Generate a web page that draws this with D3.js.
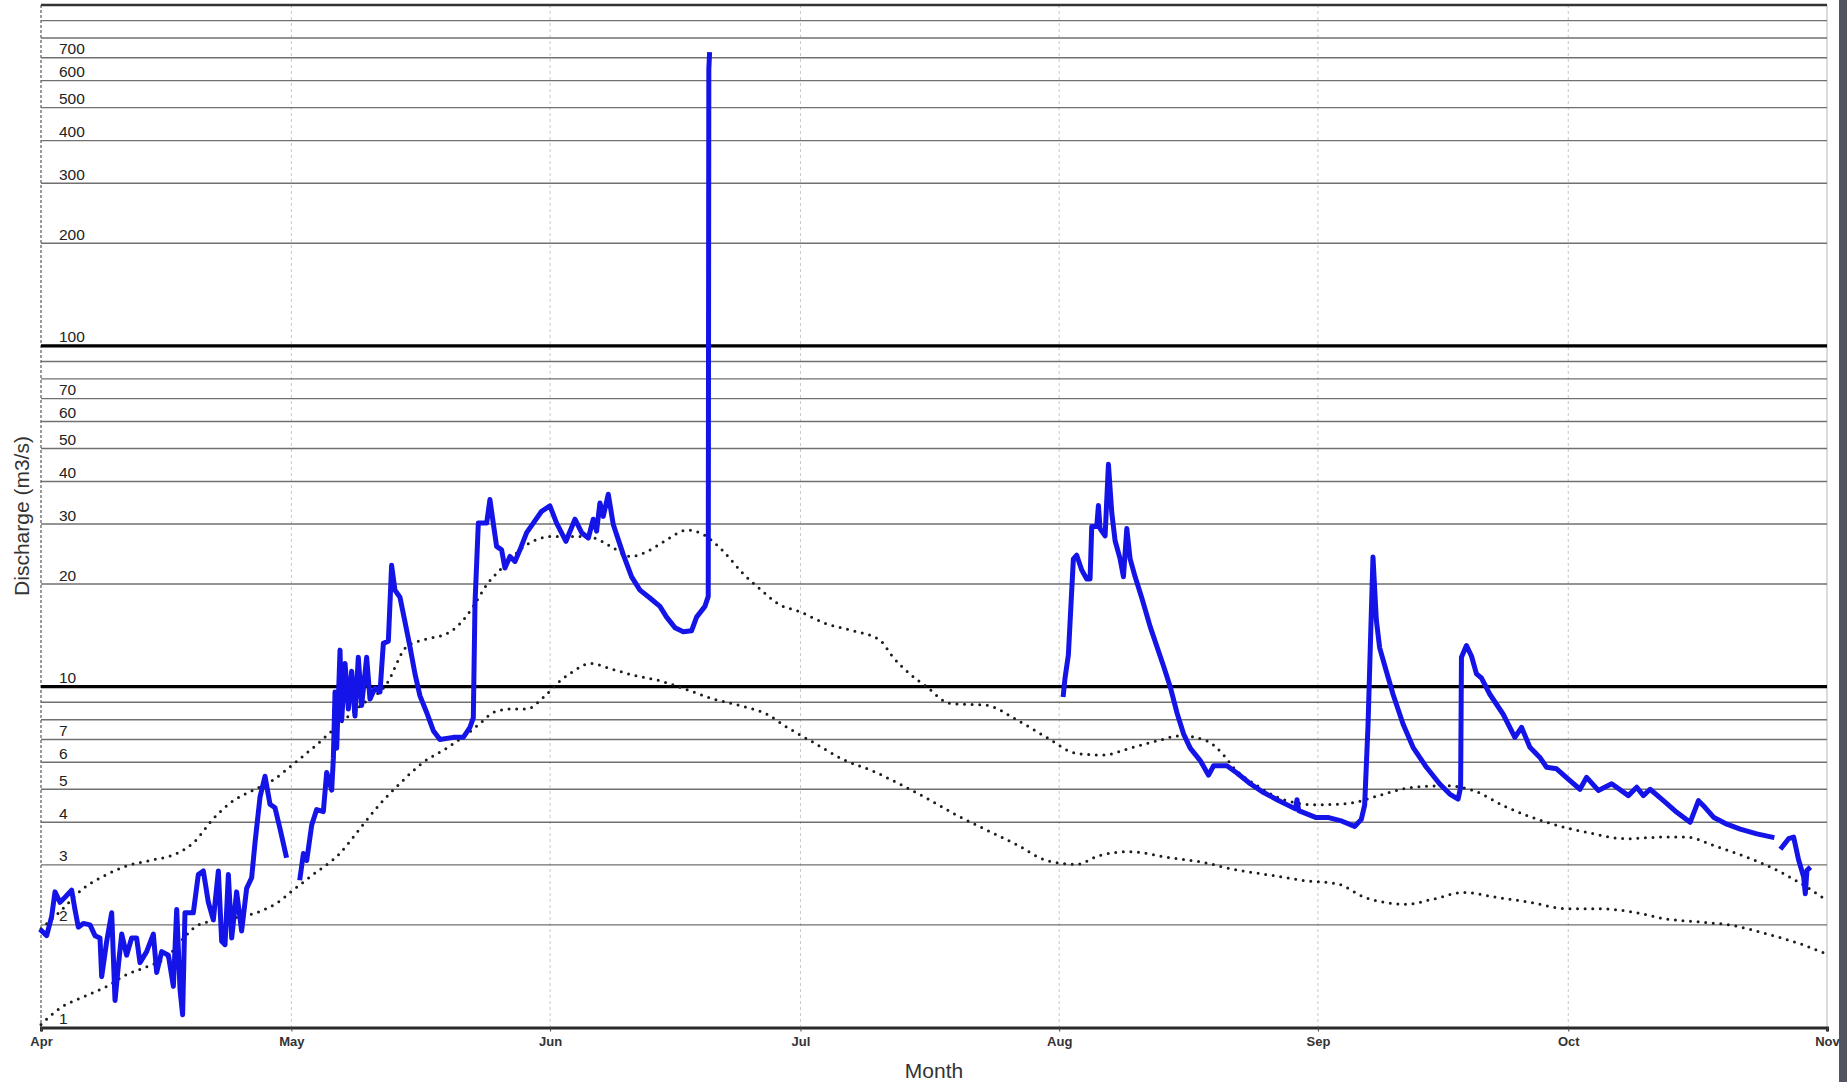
<!DOCTYPE html>
<html>
<head>
<meta charset="utf-8">
<script src="https://cdn.jsdelivr.net/npm/d3@7"></script>
<style>
  html, body { margin: 0; padding: 0; background: #fff; }
  svg { display: block; font-family: "Liberation Sans", Arial, Helvetica, sans-serif; }
</style>
</head>
<body>
<svg id="chart" width="1847" height="1082"></svg>
<script>
// Discharge record for the season, as days after 1 April and m3/s (null marks a gap in the record)
const flowDay = [
  0.08, 0.68, 1.28, 1.68, 2.28, 2.88, 3.67, 4.07, 4.47, 5.07, 5.87, 6.47, 7.07, 7.27, 7.87, 8.47,
  8.87, 9.27, 9.67, 10.26, 10.86, 11.46, 11.86, 12.66, 13.46, 13.86, 14.46, 15.26, 15.86, 16.26,
  16.66, 16.97, 17.25, 18.25, 18.85, 19.45, 20.05, 20.65, 21.25, 21.65, 22.05, 22.45, 22.85,
  23.44, 24.04, 24.64, 25.24, 25.64, 26.24, 26.84, 27.44, 28.04, 28.64, 29.36,
  30.2,
  31.04, 31.44, 31.84, 32.43, 33.03, 33.83, 34.23, 34.83, 35.03, 35.23, 35.43, 35.83, 36.03,
  36.43, 36.83, 37.22, 37.62, 38.02, 38.42, 39.02, 39.42, 40.02, 40.62, 41.02, 41.62, 42.01,
  42.41, 43.01, 43.61, 44.21, 44.81, 45.41, 46.21, 47.01, 47.80, 49.40, 50.60, 51.40, 51.80,
  52.00, 52.40, 53.40, 53.79, 54.19, 54.59, 55.19, 55.59, 56.19, 56.79, 57.39, 58.19, 58.99,
  59.98, 60.98, 61.78, 62.90, 63.98, 64.78, 65.58, 66.17, 66.57, 66.97, 67.37, 67.97, 68.57,
  69.17, 69.77, 70.77, 71.77, 72.96, 74.16, 74.96, 75.96, 76.96, 77.96, 78.55, 79.55, 79.95,
  80.02, 80.10,
  100,
  122.5, 122.7, 123.1, 123.3, 123.7, 124.1, 124.7, 125.3, 125.7, 125.9, 126.5, 126.7, 126.9,
  127.5, 127.9, 128.3, 128.7, 129.3, 129.7, 130.1, 130.5, 131.1, 131.9, 132.9, 133.9, 134.5,
  135.3, 136.1, 136.9, 137.7, 138.9, 139.9, 140.5, 142.1, 143.3, 144.9, 146.5, 148.1, 150.3,
  150.5, 150.7, 152.8, 154.3, 155.9, 157.4, 158.2, 158.6, 159.0, 159.4, 159.6, 160.0, 160.4,
  161.2, 162.0, 163.2, 164.4, 166.0, 167.6, 168.8, 169.8, 170.1, 170.2, 170.8, 171.4, 172.0,
  172.6, 173.6, 175.2, 176.6, 177.4, 178.4, 179.6, 180.4, 181.6, 183.2, 184.4, 185.2, 186.6,
  188.2, 190.2, 191.2, 192.0, 192.8, 194.4, 196.0, 197.6, 198.6, 199.4, 200.4, 202.0, 203.6,
  205.6, 207.4,
  208.0,
  208.6, 209.4, 210.0, 210.6, 211.2, 211.4, 211.6, 211.8
];
const flowQ = [
  1.92, 1.86, 2.12, 2.5, 2.33, 2.41, 2.53, 2.22, 1.97, 2.02, 2.0, 1.86, 1.83, 1.41, 1.79, 2.17,
  1.2, 1.52, 1.88, 1.63, 1.83, 1.83, 1.55, 1.67, 1.88, 1.45, 1.67, 1.63, 1.32, 2.22,
  1.29, 1.09, 2.17, 2.17, 2.81, 2.88, 2.33, 2.07, 2.88, 1.79, 1.75, 2.81, 1.83,
  2.5, 1.92, 2.56, 2.75, 3.48, 4.74, 5.46, 4.52, 4.41, 3.83, 3.2,
  null,
  2.75, 3.24, 3.09, 3.92, 4.36, 4.3, 5.6, 4.97, 6.16, 9.65, 6.6, 12.8, 7.98,
  11.7, 8.6, 11.1, 8.2, 12.2, 8.8, 12.2, 9.2, 9.9, 9.65, 13.4, 13.6, 22.7,
  19.2, 18.3, 15.5, 13.1, 10.9, 9.4, 8.4, 7.43, 7.0, 7.1, 7.1, 7.6, 8.1,
  17.5, 30.2, 30.2, 35.4, 30.2, 25.8, 25.2, 22.3, 24.1, 23.3, 25.2, 28.3, 30.2,
  32.7, 33.9, 30.2, 26.7, 31, 28.3, 27.3, 31, 28.6, 34.6, 31.6, 36.7, 29.9,
  27, 24.4, 21.0, 19.2, 18.2, 17.2, 16.0, 14.9, 14.5, 14.6, 16.0, 17.2, 18.4,
  650, 715,
  null,
  9.49, 10.6, 12.4, 15.4, 23.7, 24.3, 22.0, 20.7, 20.7, 29.5, 29.5, 34, 29.1,
  27.7, 44.9, 32.4, 26.8, 23.7, 21, 29.1, 23.7, 21, 18.2, 15.0, 12.7, 11.5,
  10, 8.4, 7.27, 6.6, 6.07, 5.5, 5.86, 5.86, 5.58, 5.19, 4.89, 4.66, 4.38,
  4.66, 4.33, 4.13, 4.13, 4.03, 3.89, 4.08, 4.49, 7.63, 16.5, 24.0, 15.7, 13.0,
  11.1, 9.5, 7.77, 6.64, 5.8, 5.18, 4.84, 4.68, 5.07, 12.2, 13.2, 12.3, 10.9,
  10.6, 9.5, 8.3, 7.1, 7.6, 6.64, 6.2, 5.8, 5.74, 5.3, 5.0, 5.42, 4.96,
  5.19, 4.79, 5.07, 4.79, 5.0, 4.63, 4.28, 4.0, 4.63, 4.42, 4.14, 3.95, 3.82,
  3.7, 3.62,
  null,
  3.38, 3.58, 3.62, 3.1, 2.77, 2.47, 2.89, 2.92
];

// Upper reference envelope (dotted)
const upperDay = [
  0, 2.28, 5.07, 7.87, 10.26, 13.06, 16.26, 18.25, 20.65, 23.05, 25.44, 27.84, 30.23, 33.03,
  35.83, 38.22, 41.42, 43.81, 46.21, 48.61, 50.2, 51.8, 53.4, 55.4, 58.2, 61.4, 63.8, 66.2,
  68.6, 70.6, 72.6, 75.0, 77.4, 79.4, 81.8, 84.1, 86.1, 88.5, 90.9, 94.1, 97.3, 100.5, 102.1,
  104.1, 106.1, 108.9, 113.3, 116.9, 120.5, 124.1, 127.3, 130.5, 133.7, 136.6, 139.7, 141.7,
  142.9, 145.7, 148.9, 152.8, 156.8, 160.0, 164.4, 168.4, 171.6, 175.6, 180.4, 185.2, 190.0,
  194.4, 197.2, 200.4, 204.4, 208.4, 211.6, 214
];
const upperQ = [
  1.95, 2.19, 2.56, 2.81, 2.98, 3.09, 3.24, 3.48, 4.1, 4.63, 4.97, 5.33, 5.93, 6.76,
  7.8, 8.77, 10.2, 13.1, 13.8, 14.3, 15.3, 17.2, 19.9, 22.5, 26.1, 27.6, 27.6, 27.3,
  25.5, 24.1, 24.9, 27, 28.8, 27.9, 24.9, 21.5, 19.4, 17.4, 16.6, 15.3, 14.6, 13.7, 12.2,
  10.9, 10, 8.93, 8.82, 8.0, 7.1, 6.37, 6.3, 6.6, 6.93, 7.18, 6.93, 6.3,
  5.79, 5.13, 4.66, 4.5, 4.55, 4.77, 5.07, 5.12, 4.96, 4.43, 4.0, 3.74, 3.58,
  3.62, 3.62, 3.42, 3.16, 2.86, 2.58, 2.36
];

// Lower reference envelope (dotted)
const lowerDay = [
  0, 2.28, 5.07, 7.87, 10.26, 13.06, 15.1, 17.1, 18.7, 21.4, 24.2, 26.2, 28.6, 30.2, 32.6,
  35.8, 38.2, 40.6, 43.0, 45.8, 48.6, 51.0, 52.6, 54.2, 56.2, 58.2, 60.2, 62.2, 63.8, 65.8,
  68.2, 71.0, 74.2, 77.4, 80.6, 83.8, 87.0, 89.4, 92.6, 96.2, 99.8, 103.0, 106.1, 109.7,
  112.9, 116.9, 120.5, 124.1, 126.9, 130.5, 134.9, 139.3, 142.9, 147.3, 151.3, 155.3, 158.8,
  163.6, 166.8, 170.4, 174.4, 178.4, 182.8, 186.8, 190.8, 194.8, 198.8, 202.8, 206.8, 210.8, 214
];
const lowerQ = [
  1.02, 1.14, 1.23, 1.32, 1.43, 1.52, 1.61, 1.83, 1.99, 2.07, 2.12, 2.19, 2.35, 2.53, 2.81,
  3.24, 3.83, 4.52, 5.2, 6.0, 6.6, 7.25, 7.8, 8.4, 8.6, 8.6, 9.3, 10.4, 11.1, 11.7,
  11.3, 10.8, 10.4, 9.8, 9.2, 8.8, 8.3, 7.6, 6.85, 6.1, 5.64, 5.16, 4.71, 4.2,
  3.84, 3.44, 3.09, 3.01, 3.2, 3.28, 3.16, 3.05, 2.91, 2.8, 2.7, 2.64, 2.4,
  2.3, 2.38, 2.49, 2.41, 2.33, 2.23, 2.23, 2.18, 2.08, 2.04, 1.99, 1.88, 1.76, 1.64
];

// Log-axis gridlines, which of them carry a label, and the heavy decade lines
const gridValues = [1, 2, 3, 4, 5, 6, 7, 8, 9, 10, 20, 30, 40, 50, 60, 70, 80, 90, 100,
                    200, 300, 400, 500, 600, 700, 800, 900, 1000];
const labelledValues = [1, 2, 3, 4, 5, 6, 7, 10, 20, 30, 40, 50, 60, 70, 100,
                        200, 300, 400, 500, 600, 700];
const heavyValues = [10, 100];

const seasonStart = new Date(Date.UTC(2013, 3, 1));
const seasonEnd = new Date(Date.UTC(2013, 10, 1));
const toDate = d => new Date(seasonStart.getTime() + d * 86400000);

const plot = { left: 41, right: 1827, top: 5, bottom: 1027.5 };

const svg = d3.select("#chart");

const x = d3.scaleUtc().domain([seasonStart, seasonEnd]).range([plot.left, plot.right]);
const y = d3.scaleLog().domain([1, 1000]).range([plot.bottom, plot.top]);

// Month gridlines
const months = d3.utcMonth.range(seasonStart, d3.utcDay.offset(seasonEnd, 1));
svg.append("g")
  .selectAll("line")
  .data(months.slice(1, -1))
  .join("line")
  .attr("x1", d => x(d)).attr("x2", d => x(d))
  .attr("y1", plot.top).attr("y2", plot.bottom)
  .attr("stroke", "#c8c8c8")
  .attr("stroke-width", 1)
  .attr("stroke-dasharray", "3,3");

// Left edge (dashed) and right edge
svg.append("line")
  .attr("x1", plot.left).attr("x2", plot.left)
  .attr("y1", plot.top).attr("y2", plot.bottom)
  .attr("stroke", "#666").attr("stroke-width", 1.3).attr("stroke-dasharray", "3,2");
svg.append("line")
  .attr("x1", plot.right).attr("x2", plot.right)
  .attr("y1", plot.top).attr("y2", plot.bottom)
  .attr("stroke", "#cfcfcf").attr("stroke-width", 1.5);

// Horizontal log gridlines
svg.append("g")
  .selectAll("line")
  .data(gridValues.filter(v => v !== 1))
  .join("line")
  .attr("x1", plot.left).attr("x2", plot.right)
  .attr("y1", d => y(d)).attr("y2", d => y(d))
  .attr("stroke", d => heavyValues.includes(d) ? "#000" : (d === 1000 ? "#333" : "#707070"))
  .attr("stroke-width", d => heavyValues.includes(d) ? 3.2 : (d === 1000 ? 2.6 : 1.4));

// Gridline labels
svg.append("g")
  .selectAll("text")
  .data(labelledValues)
  .join("text")
  .attr("x", 59)
  .attr("y", d => y(d) - 3.5)
  .attr("font-size", 15.5)
  .attr("fill", "#222")
  .text(d => d);

// Reference envelopes
const envLine = d3.line()
  .x((d, i, arr) => x(toDate(d[0])))
  .y(d => y(d[1]))
  .curve(d3.curveMonotoneX);

[[upperDay, upperQ], [lowerDay, lowerQ]].forEach(([days, qs]) => {
  svg.append("path")
    .datum(days.map((d, i) => [d, qs[i]]))
    .attr("fill", "none")
    .attr("stroke", "#1c1c1c")
    .attr("stroke-width", 3)
    .attr("stroke-linecap", "round")
    .attr("stroke-dasharray", "0,7.6")
    .attr("d", envLine);
});

// Discharge record
const flowLine = d3.line()
  .defined(d => d[1] !== null)
  .x(d => x(toDate(d[0])))
  .y(d => y(d[1]));

svg.append("path")
  .datum(flowDay.map((d, i) => [d, flowQ[i]]))
  .attr("fill", "none")
  .attr("stroke", "#1414e8")
  .attr("stroke-width", 5)
  .attr("stroke-linejoin", "round")
  .attr("stroke-linecap", "square")
  .attr("d", flowLine);

// Bottom axis
const xAxis = d3.axisBottom(x)
  .tickValues(months)
  .tickFormat(d3.utcFormat("%b"))
  .tickSize(4)
  .tickPadding(5);

const gx = svg.append("g")
  .attr("transform", `translate(0,${plot.bottom})`)
  .call(xAxis);
gx.select(".domain").attr("stroke", "#2a2a2a").attr("stroke-width", 3);
gx.selectAll(".tick line").attr("stroke", "#444").attr("stroke-width", 1);
gx.selectAll(".tick text")
  .attr("font-size", 13)
  .attr("font-weight", "bold")
  .attr("fill", "#333")
  .attr("font-family", "'Liberation Sans', Arial, sans-serif");

// Axis titles
svg.append("text")
  .attr("x", (plot.left + plot.right) / 2)
  .attr("y", 1078)
  .attr("text-anchor", "middle")
  .attr("font-size", 21)
  .attr("fill", "#333")
  .text("Month");

svg.append("text")
  .attr("transform", "translate(29,516) rotate(-90)")
  .attr("text-anchor", "middle")
  .attr("font-size", 21)
  .attr("fill", "#333")
  .text("Discharge (m3/s)");

// Dark frame on the right
svg.append("rect")
  .attr("x", 1839).attr("y", 0)
  .attr("width", 8).attr("height", 1082)
  .attr("fill", "#52555f");
</script>
</body>
</html>
